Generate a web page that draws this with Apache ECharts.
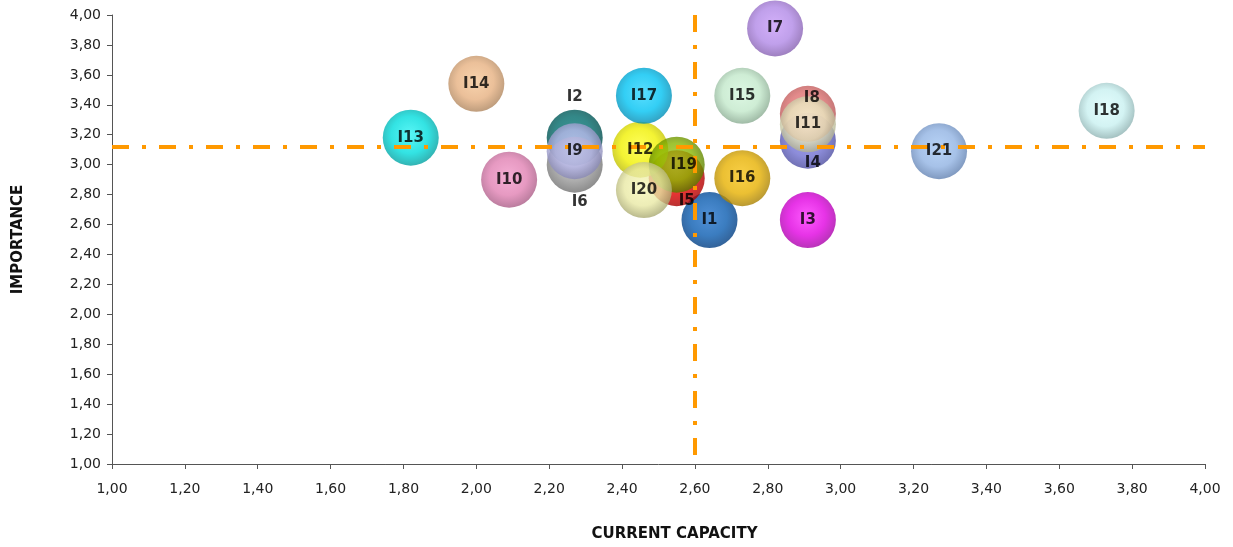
<!DOCTYPE html>
<html>
<head>
<meta charset="utf-8">
<script src="https://cdn.jsdelivr.net/npm/echarts@6/dist/echarts.min.js"></script>
<style>
  html, body { margin: 0; padding: 0; background: #ffffff; }
  #chart { width: 1233px; height: 547px; }
</style>
</head>
<body>
<div id="chart"></div>
<script>
// Items of the capacity / importance matrix
const items      = ['I1','I2','I3','I4','I5','I6','I7','I8','I9','I10','I11','I12','I13','I14','I15','I16','I17','I18','I19','I20','I21'];
const capacity   = [2.64, 2.27, 2.91, 2.91, 2.55, 2.27, 2.82, 2.91, 2.27, 2.09, 2.91, 2.45, 1.82, 2.00, 2.73, 2.73, 2.46, 3.73, 2.55, 2.46, 3.27];
const importance = [2.63, 3.18, 2.63, 3.16, 2.91, 3.00, 3.91, 3.34, 3.09, 2.90, 3.27, 3.10, 3.18, 3.54, 3.46, 2.91, 3.46, 3.36, 3.00, 2.83, 3.09];

// Quadrant dividers (average capacity / average importance)
const capacityAvg   = 2.60;
const importanceAvg = 3.12;

// Axis range and tick step
const axisMin = 1.00;
const axisMax = 4.00;
const axisStep = 0.20;

// Bubble shading: [highlight, body, rim]
const shades = {
  I1:  ['#2474cc', '#0a5cb0', '#003c80'],
  I2:  ['#0a7c7c', '#006a6a', '#004848'],
  I3:  ['#ff30ff', '#e000e0', '#a800a8'],
  I4:  ['#8686e6', '#7070d0', '#4c4ca0'],
  I5:  ['#f81c1c', '#e00000', '#a80000'],
  I6:  ['#acacac', '#9a9a9a', '#707070'],
  I7:  ['#c89cf8', '#b088e6', '#8660b0'],
  I8:  ['#ec8484', '#dc6e6e', '#b05050'],
  I9:  ['#ccccfa', '#b8b8ea', '#8888b4'],
  I10: ['#f29aca', '#e080b2', '#aa5c86'],
  I11: ['#f8f8d4', '#e8e8c0', '#b0b090'],
  I12: ['#ffff30', '#f0f000', '#b8b800'],
  I13: ['#30f4f4', '#00dcdc', '#00a0a0'],
  I14: ['#f6c898', '#e6b080', '#ae845c'],
  I15: ['#d4f6dc', '#c2e8ca', '#88aa90'],
  I16: ['#f8c418', '#e6b000', '#a88000'],
  I17: ['#30d6ff', '#00c2f2', '#008cb4'],
  I18: ['#dcfcfc', '#c8f0f0', '#8eb2b2'],
  I19: ['#a0ca20', '#88b400', '#587a00'],
  I20: ['#f8f8b8', '#e8e8a4', '#a8a870'],
  I21: ['#a6c8f4', '#90b2e2', '#6080b0']
};

// Label nudges (px) for bubbles whose labels sit away from their centre
const labelNudge = {
  I2: [0, -41],
  I6: [5, 37],
  I5: [10, 23],
  I8: [4, -16],
  I4: [5, 22],
  I19: [7, 0]
};

function fmt(v) {
  return v.toFixed(2).replace('.', ',');
}

function bubbleFill(name) {
  const s = shades[name];
  return new echarts.graphic.RadialGradient(0.48, 0.45, 0.55, [
    { offset: 0, color: s[0] },
    { offset: 0.6, color: s[1] },
    { offset: 1, color: s[2] }
  ]);
}

const bubbleData = items.map((name, i) => ({
  name: name,
  value: [capacity[i], importance[i]],
  itemStyle: { color: bubbleFill(name) }
}));

const labelData = items.map((name, i) => ({
  name: name,
  value: [capacity[i], importance[i]]
}));

const chart = echarts.init(document.getElementById('chart'), null, { renderer: 'canvas' });

const axisLabelStyle = {
  color: '#222222',
  fontFamily: 'DejaVu Sans',
  fontSize: 14,
  formatter: fmt
};

const axisNameStyle = {
  color: '#111111',
  fontFamily: 'DejaVu Sans',
  fontWeight: 'bold',
  fontSize: 15
};

chart.setOption({
  animation: false,
  backgroundColor: '#ffffff',
  grid: { left: 112, right: 28, top: 15, bottom: 80, containLabel: false },
  xAxis: {
    type: 'value',
    min: axisMin,
    max: axisMax,
    interval: axisStep,
    name: 'CURRENT CAPACITY',
    nameLocation: 'middle',
    nameGap: 63,
    nameTextStyle: Object.assign({ padding: [0, 0, 0, 32] }, axisNameStyle),
    axisLine: { show: true, lineStyle: { color: '#555555', width: 1 } },
    axisTick: { show: true, inside: false, length: 5, lineStyle: { color: '#555555' } },
    axisLabel: Object.assign({ margin: 18 }, axisLabelStyle),
    splitLine: { show: false }
  },
  yAxis: {
    type: 'value',
    min: axisMin,
    max: axisMax,
    interval: axisStep,
    name: 'IMPORTANCE',
    nameLocation: 'middle',
    nameRotate: 90,
    nameGap: 86,
    nameTextStyle: axisNameStyle,
    axisLine: { show: true, lineStyle: { color: '#555555', width: 1 } },
    axisTick: { show: true, inside: false, length: 5, lineStyle: { color: '#555555' } },
    axisLabel: Object.assign({ margin: 11 }, axisLabelStyle),
    splitLine: { show: false }
  },
  series: [
    {
      // quadrant divider lines
      type: 'line',
      data: [],
      silent: true,
      z: 1,
      markLine: {
        silent: true,
        symbol: 'none',
        label: { show: false },
        lineStyle: { color: '#ff9900', width: 4, type: [17, 13, 4, 13] },
        data: [
          [{ coord: [capacityAvg, axisMax] }, { coord: [capacityAvg, axisMin] }],
          [{ coord: [axisMin, importanceAvg] }, { coord: [axisMax, importanceAvg] }]
        ]
      }
    },
    {
      type: 'scatter',
      symbol: 'circle',
      symbolSize: 56,
      z: 2,
      label: { show: false },
      emphasis: { disabled: true },
      data: bubbleData
    },
    {
      // item names drawn above every bubble
      type: 'scatter',
      symbolSize: 2,
      z: 5,
      silent: true,
      itemStyle: { color: 'rgba(0,0,0,0)' },
      label: {
        show: true,
        position: 'inside',
        formatter: '{b}',
        color: '#000000',
        textBorderWidth: 0,
        fontFamily: 'DejaVu Sans',
        fontWeight: 'bold',
        fontSize: 15
      },
      labelLayout: function (params) {
        const nudge = labelNudge[items[params.dataIndex]] || [0, 0];
        return { dx: nudge[0], dy: nudge[1], hideOverlap: false };
      },
      emphasis: { disabled: true },
      data: labelData
    }
  ]
});
</script>
</body>
</html>
